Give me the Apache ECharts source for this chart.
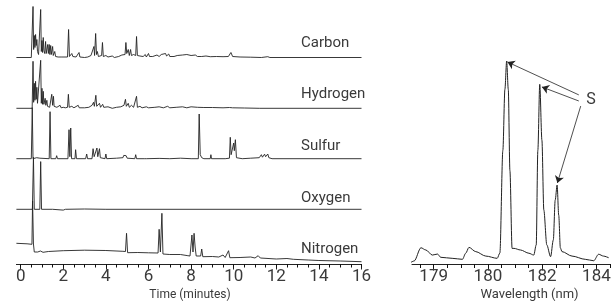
<!DOCTYPE html>
<html>
<head>
<meta charset="utf-8">
<script src="https://cdn.jsdelivr.net/npm/echarts@6/dist/echarts.min.js"></script>
<style>html,body{margin:0;padding:0;background:#fff}#c{width:615px;height:303px}</style>
</head>
<body>
<div id="c"></div>
<script>
// ---- DATA (time in minutes, signal height above each trace's baseline) ----
const traceNames = ['Carbon', 'Hydrogen', 'Sulfur', 'Oxygen', 'Nitrogen'];

const carbon = [[-0.2,0],[0.5,0],[0.55,0],[0.58,51],[0.61,8],[0.64,22],[0.67,10],[0.70,23],[0.73,12],[0.76,18],[0.79,6],[0.84,3],[0.88,5],[0.94,48],[0.97,6],[1.0,17],[1.03,5],[1.06,20],[1.09,7],[1.13,4],[1.17,16],[1.2,4],[1.27,13],[1.30,4],[1.34,13],[1.37,3],[1.41,12],[1.44,3],[1.5,11],[1.53,2],[1.6,6],[1.64,1],[1.72,3],[1.76,0.5],[1.85,2],[1.9,0.5],[2.2,0.5],[2.25,28],[2.29,1],[2.4,4],[2.45,1],[2.6,0.5],[2.74,5],[2.78,0.5],[3.0,0],[3.15,0.5],[3.3,2],[3.44,11],[3.47,2],[3.52,24],[3.56,3],[3.6,6],[3.65,1],[3.8,2],[3.84,15],[3.88,1],[4.0,2],[4.1,0.5],[4.3,1.5],[4.4,0],[4.6,1],[4.75,2.5],[4.82,1],[4.9,3],[4.94,15],[4.98,4],[5.05,8],[5.1,2],[5.16,8],[5.2,2],[5.3,3],[5.4,2],[5.44,21],[5.48,2],[5.6,1.5],[5.75,1],[5.85,3],[5.9,0.5],[6.0,4],[6.05,1],[6.2,1],[6.4,2.5],[6.5,1],[6.6,3],[6.68,1],[6.8,4],[6.85,1.5],[6.95,3.5],[7.0,1],[7.2,1],[7.35,2],[7.4,0.5],[7.6,2.5],[7.65,1],[7.8,3],[7.85,1],[8.0,2],[8.2,2.5],[8.3,1],[8.5,1],[8.7,1.5],[8.9,0.8],[9.2,1],[9.5,0.8],[9.75,1],[9.87,5],[9.95,1],[10.3,0.5],[10.8,0.3],[11.3,0],[11.6,0.8],[11.7,0],[16,0]];

const hydrogen = [[-0.2,0],[0.54,0],[0.58,47],[0.61,6],[0.64,25],[0.67,8],[0.70,27],[0.73,9],[0.76,21],[0.79,5],[0.86,3],[0.94,48],[0.97,5],[1.0,20],[1.03,4],[1.06,17],[1.09,4],[1.15,10],[1.18,3],[1.23,8],[1.26,2],[1.33,4],[1.36,1],[1.46,14],[1.5,3],[1.54,12],[1.57,2],[1.65,4],[1.7,1],[1.85,3],[1.9,0.5],[2.0,1],[2.1,0.5],[2.2,1],[2.24,14],[2.28,1],[2.4,2],[2.5,0.5],[2.7,3],[2.75,0.5],[3.0,0.5],[3.2,1],[3.35,3],[3.42,6],[3.46,2],[3.53,13],[3.57,2],[3.7,5],[3.75,1],[3.85,4],[3.9,1],[4.1,1.5],[4.3,0],[4.5,1],[4.7,1.5],[4.85,3],[4.92,9],[4.96,2],[5.05,5],[5.1,1],[5.2,3],[5.3,1],[5.44,12],[5.48,1],[5.6,2],[5.7,0.5],[5.9,1.5],[6.0,0.5],[6.3,1],[6.5,1.5],[6.7,0.5],[6.9,2],[7.0,0.5],[7.3,1],[7.6,1.5],[7.8,0.5],[8.0,1.5],[8.3,1],[8.6,0.8],[9.0,0.8],[9.5,0.5],[9.8,0.8],[9.87,2.5],[9.95,0.5],[10.5,0.3],[11.2,0],[16,0]];

const sulfur = [[-0.2,0],[0.5,0],[0.545,51],[0.58,0],[0.75,1],[0.9,0.5],[1.34,0],[1.38,47],[1.42,0],[1.65,0],[1.69,3],[1.73,0],[2.22,0],[2.27,29],[2.31,2],[2.35,30.7],[2.39,0],[2.55,0],[2.58,9],[2.62,0],[3.05,0],[3.1,4.7],[3.14,0],[3.35,0],[3.4,10],[3.45,2],[3.52,1],[3.58,10.7],[3.62,2],[3.7,10],[3.74,1],[3.96,0],[4.0,4.7],[4.04,0],[4.5,0.5],[4.8,1],[4.84,3.3],[4.9,1.5],[4.95,3],[5.0,0.5],[5.36,0],[5.4,4],[5.44,0],[5.8,0],[5.85,1.5],[5.9,0],[6.5,0.3],[7.0,0],[7.5,0.5],[8.0,0],[8.34,0],[8.38,44.7],[8.43,4],[8.5,1],[8.6,0],[8.9,0],[8.93,4],[8.96,0],[9.6,0],[9.8,0.5],[9.84,21.4],[9.88,4],[9.95,3],[10.0,15.7],[10.03,8],[10.08,19],[10.13,1],[10.4,0],[10.8,0.5],[11.2,1],[11.3,4],[11.35,1.5],[11.45,4.5],[11.5,2],[11.6,4.7],[11.65,1],[11.8,0],[16,0]];

const oxygen = [[-0.2,0],[0.55,0],[0.6,52],[0.64,0],[0.9,0],[0.94,47.7],[0.98,0],[1.5,0],[2.0,-0.8],[2.1,0],[3.0,0.3],[4.0,0],[16,0]];

const nitrogen = [[-0.2,20.7],[0.3,20.2],[0.53,19.7],[0.56,63],[0.6,20],[0.64,12],[0.7,10.7],[0.8,12],[0.93,13],[0.99,14.7],[1.05,11.7],[1.3,12.5],[2.0,13.3],[3.0,13.8],[4.0,13.5],[4.8,12.7],[4.92,12.5],[4.97,30.7],[5.02,11.3],[5.5,11.5],[6.0,11.2],[6.45,11],[6.5,34.7],[6.56,12],[6.63,50.7],[6.68,10],[7.0,9.5],[7.5,9.5],[7.85,8.3],[7.9,10],[7.95,8],[8.04,29],[8.09,12],[8.14,30.7],[8.19,17],[8.24,8],[8.45,8],[8.5,15],[8.55,7.3],[9.0,7.5],[9.3,7],[9.5,9],[9.6,6.5],[9.76,13.3],[9.82,6.3],[10.3,6.5],[10.8,7],[11.0,6],[11.15,8.3],[11.25,6],[12.0,5],[12.5,5.5],[12.8,4.7],[13.5,4],[14.0,3.5],[15.0,3],[16,2.3]];

// time axis: range and ticks
const timeRange = [-0.2, 16];
const timeTickRange = [0, 16];
const timeMajorStep = 2;
const timeMinorStep = 0.5;

// spectrum: wavelength (nm), relative intensity
const spectrum = [[177.16,0.8],[177.28,1.5],[177.53,8.0],[177.71,6.9],[177.95,4.4],[178.14,4.9],[178.26,3.3],[178.68,2.8],[179.06,2.3],[179.18,5.3],[179.30,8.2],[179.55,6.1],[179.92,3.9],[180.34,2.8],[180.44,5.4],[180.55,56],[180.625,86],[180.69,100],[180.75,86],[180.81,46],[180.89,7.7],[180.96,7.7],[181.20,6.9],[181.51,5.3],[181.69,4.4],[181.78,9.4],[181.84,56],[181.91,88.5],[181.99,61],[182.06,26.6],[182.17,9.4],[182.31,3.6],[182.41,11.8],[182.48,31.5],[182.55,38.9],[182.61,24],[182.67,7.9],[182.73,6.1],[183.10,3.9],[183.59,2.3],[183.90,1.6],[184.08,4.8],[184.26,3.9],[184.45,3.1]];
const wlRange = [177.2, 184.5];
const wlMajorRange = [178, 184];
const wlMajorStep = 2;
const wlTickValues = [178, 180, 182, 184];
const wlTickLabels = ['179', '180', '182', '184'];
const wlMinorRange = [177.5, 184.5];
const wlMinorStep = 0.5;
const sLabel = 'S';
// arrows from the "S" label to the sulfur lines: [start, end] in data units
const sArrows = [
  [[183.35,83.3],[180.72,99.5]],
  [[183.35,80.3],[181.99,87.2]],
  [[183.42,77.8],[182.56,39.9]]
];

// ---- LAYOUT ----
const FONT = 'Roboto, "Liberation Sans", Arial, sans-serif';
const INK = '#222';
const TXT = '#3a3a3a';
const baselines = [57.5, 108.3, 158.7, 209.3, 264];
const gridH = [55, 55, 55, 55, 70];
const LX0 = 16.4, LX1 = 361.5;            // pixel span of the time axis
const tpx = (LX1 - LX0) / (timeRange[1] - timeRange[0]);
const RX0 = 412, RX1 = 610;                // pixel span of the wavelength axis
const wpx = (RX1 - RX0) / (wlRange[1] - wlRange[0]);
const W = 615, H = 303;
const traces = [carbon, hydrogen, sulfur, oxygen, nitrogen];

const grid = [], xAxis = [], yAxis = [], series = [];
const hiddenY = (gi) => ({ gridIndex: gi, type: 'value', min: 0, max: 1, show: false });

traces.forEach((d, i) => {
  grid.push({ left: LX0, right: W - LX1, top: baselines[i] - gridH[i], height: gridH[i] });
  yAxis.push({ gridIndex: i, type: 'value', min: 0, max: gridH[i], show: false });
  xAxis.push({ gridIndex: i, type: 'value', position: 'bottom', min: timeRange[0], max: timeRange[1], show: i === 4,
    axisLine: { show: true, lineStyle: { color: INK, width: 1 } },
    splitLine: { show: false }, axisTick: { show: false }, axisLabel: { show: false } });
  series.push({ type: 'line', xAxisIndex: i, yAxisIndex: i, data: d, symbol: 'none', clip: false,
    lineStyle: { color: INK, width: 0.9 }, animation: false, silent: true });
});

// tick grids for the time axis (start exactly at 0)
const tLeft = LX0 + (timeTickRange[0] - timeRange[0]) * tpx;
const axisY = baselines[4];
// grid 5: major ticks + labels
grid.push({ left: tLeft, right: W - LX1, top: axisY - 10, height: 10 });
yAxis.push(hiddenY(5));
xAxis.push({ gridIndex: 5, type: 'value', position: 'bottom', min: timeTickRange[0], max: timeTickRange[1], interval: timeMajorStep,
  axisLine: { show: false }, splitLine: { show: false },
  axisTick: { show: true, length: 5.5, lineStyle: { color: INK, width: 1 } },
  axisLabel: { show: true, fontSize: 17, fontFamily: FONT, color: TXT, margin: 4 } });
// grid 6: minor ticks
grid.push({ left: tLeft, right: W - LX1, top: axisY - 10, height: 10 });
yAxis.push(hiddenY(6));
xAxis.push({ gridIndex: 6, type: 'value', position: 'bottom', min: timeTickRange[0], max: timeTickRange[1], interval: timeMinorStep,
  axisLine: { show: false }, splitLine: { show: false },
  axisTick: { show: true, length: 3.5, lineStyle: { color: '#111', width: 1 } }, axisLabel: { show: false } });

// grid 7: spectrum
const specAxisY = 264;
grid.push({ left: RX0, right: W - RX1, top: 40.7, bottom: H - specAxisY });
yAxis.push({ gridIndex: 7, type: 'value', min: 0, max: 110, show: false });
xAxis.push({ gridIndex: 7, type: 'value', position: 'bottom', min: wlRange[0], max: wlRange[1],
  axisLine: { show: true, lineStyle: { color: INK, width: 1 } }, splitLine: { show: false },
  axisTick: { show: false }, axisLabel: { show: false } });
series.push({ type: 'line', xAxisIndex: 7, yAxisIndex: 7, data: spectrum, symbol: 'none', clip: false,
  smooth: 0.3, smoothMonotone: 'x',
  lineStyle: { color: INK, width: 1 }, animation: false, silent: true,
  markLine: { silent: true, animation: false, symbol: ['none', 'arrow'], symbolSize: 7,
    lineStyle: { color: INK, width: 0.8, type: 'solid' }, label: { show: false },
    data: sArrows.map(a => [{ coord: a[0] }, { coord: a[1] }]) }
});
// grid 8: wavelength major ticks + labels
grid.push({ left: RX0 + (wlMajorRange[0] - wlRange[0]) * wpx, right: W - (RX0 + (wlMajorRange[1] - wlRange[0]) * wpx),
  top: specAxisY - 10, height: 10 });
yAxis.push(hiddenY(8));
xAxis.push({ gridIndex: 8, type: 'value', position: 'bottom', min: wlMajorRange[0], max: wlMajorRange[1], interval: wlMajorStep,
  axisLine: { show: false }, splitLine: { show: false },
  axisTick: { show: true, length: 6.5, lineStyle: { color: INK, width: 1 } },
  axisLabel: { show: true, fontSize: 17, fontFamily: FONT, color: TXT, margin: 4,
    formatter: v => { const k = wlTickValues.indexOf(v); return k < 0 ? '' : wlTickLabels[k]; } } });
// grid 9: wavelength minor ticks
grid.push({ left: RX0 + (wlMinorRange[0] - wlRange[0]) * wpx, right: W - (RX0 + (wlMinorRange[1] - wlRange[0]) * wpx),
  top: specAxisY - 10, height: 10 });
yAxis.push(hiddenY(9));
xAxis.push({ gridIndex: 9, type: 'value', position: 'bottom', min: wlMinorRange[0], max: wlMinorRange[1], interval: wlMinorStep,
  axisLine: { show: false }, splitLine: { show: false },
  axisTick: { show: true, length: 4, lineStyle: { color: '#111', width: 1 } }, axisLabel: { show: false } });

const labelY = [43.5, 95, 147, 198.5, 250];
const graphic = traceNames.map((n, i) => ({ type: 'text', left: 301, top: labelY[i] - 8,
  style: { text: n, fontSize: 15, fontFamily: FONT, fill: TXT } }));
graphic.push({ type: 'text', x: 190, y: 295, style: { text: 'Time (minutes)', fontSize: 12, fontFamily: FONT, fill: TXT, textAlign: 'center', textVerticalAlign: 'middle' } });
graphic.push({ type: 'text', x: 529.5, y: 295, style: { text: 'Wavelength (nm)', fontSize: 13, fontFamily: FONT, fill: TXT, textAlign: 'center', textVerticalAlign: 'middle' } });
graphic.push({ type: 'text', x: 591, y: 99.5, style: { text: sLabel, fontSize: 16, fontFamily: FONT, fill: TXT, textAlign: 'center', textVerticalAlign: 'middle' } });

const chart = echarts.init(document.getElementById('c'), null, { renderer: 'canvas' });
chart.setOption({ animation: false, backgroundColor: '#fff', grid, xAxis, yAxis, series, graphic });
</script>
</body>
</html>
